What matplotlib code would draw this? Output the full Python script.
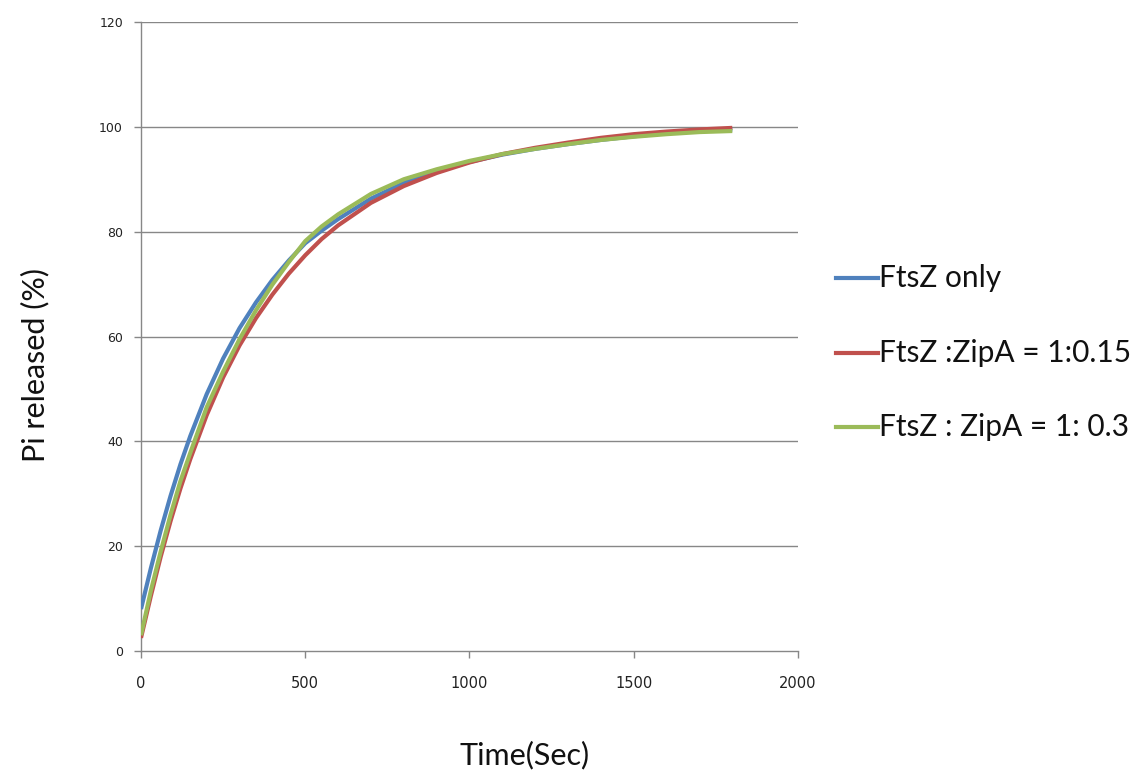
import matplotlib
matplotlib.use("Agg")
import matplotlib.pyplot as plt
from matplotlib.lines import Line2D

# Time points (s) and percentage of Pi released for each condition
time_s = [0, 30, 60, 90, 120, 150, 200, 250, 300, 350, 400, 450, 500, 550,
          600, 700, 800, 900, 1000, 1100, 1200, 1300, 1400, 1500, 1600, 1700, 1800]

ftsz_only = [8.0, 15.8, 23.0, 29.6, 35.6, 41.0, 49.0, 55.8, 61.6, 66.5, 70.8, 74.5,
             77.8, 80.2, 82.4, 86.3, 89.3, 91.5, 93.3, 94.7, 95.8, 96.7, 97.5,
             98.2, 98.8, 99.2, 99.5]

ftsz_zipa_015 = [2.5, 10.5, 18.0, 24.8, 31.0, 36.6, 45.0, 52.2, 58.3, 63.5, 68.0,
                 72.0, 75.5, 78.6, 81.2, 85.5, 88.7, 91.2, 93.2, 94.8, 96.0, 97.0,
                 97.9, 98.6, 99.1, 99.5, 99.8]

ftsz_zipa_03 = [3.0, 11.5, 19.0, 26.0, 32.4, 37.8, 46.5, 53.3, 59.5, 65.0, 69.9,
                74.2, 78.2, 81.0, 83.3, 87.2, 90.0, 91.9, 93.5, 94.8, 95.8, 96.7,
                97.5, 98.1, 98.6, 99.0, 99.2]

series_labels = ["FtsZ only", "FtsZ :ZipA = 1:0.15", "FtsZ : ZipA = 1: 0.3"]
series_colors = ["#4F81BD", "#C0504D", "#9BBB59"]

x_ticks = [0, 500, 1000, 1500, 2000]
y_ticks = [0, 20, 40, 60, 80, 100, 120]

W, H = 1144, 774
fig = plt.figure(figsize=(W / 100, H / 100), dpi=100)
ax = fig.add_axes([141 / W, 1 - 651 / H, (798 - 141) / W, (651 - 22) / H])

grid_color = "#878787"
for yv in y_ticks[1:]:
    ax.axhline(yv, color=grid_color, lw=1.0, zorder=1)

for vals, lab, col in zip([ftsz_only, ftsz_zipa_015, ftsz_zipa_03],
                          series_labels, series_colors):
    ax.plot(time_s, vals, color=col, lw=3.0, solid_capstyle="butt",
            solid_joinstyle="round", zorder=3, label=lab)

ax.set_xlim(0, 2000)
ax.set_ylim(0, 120)
ax.set_xticks(x_ticks)
ax.set_yticks(y_ticks)
ax.set_xticklabels([str(v) for v in x_ticks], fontsize=10.5, family="Liberation Sans Narrow")
ax.set_yticklabels([str(v) for v in y_ticks], fontsize=9, family="DejaVu Sans")
ax.tick_params(axis="both", direction="out", length=5, width=1.0, color=grid_color,
               labelcolor="#222222")
ax.tick_params(axis="x", pad=13)
ax.tick_params(axis="y", pad=8)

for side in ["top", "right"]:
    ax.spines[side].set_visible(False)
for side in ["left", "bottom"]:
    ax.spines[side].set_color(grid_color)
    ax.spines[side].set_linewidth(1.0)

label_font = "Lato"
fig.text(35 / W, 1 - 365 / H, "Pi released (%)", rotation=90, ha="center", va="center",
         fontsize=22, family=label_font, color="#111111")
fig.text(525 / W, 1 - 755 / H, "Time(Sec)", ha="center", va="center",
         fontsize=22, family=label_font, color="#111111")

# Legend drawn as short line samples with text to the right
legend_rows = [278, 353, 427]
for yy, lab, col in zip(legend_rows, series_labels, series_colors):
    fy = 1 - yy / H
    fig.add_artist(Line2D([836 / W, 878 / W], [fy, fy], color=col, lw=3.0,
                          transform=fig.transFigure))
    fig.text(879 / W, fy, lab, ha="left", va="center", fontsize=21.5,
             family=label_font, color="#111111")

fig.savefig("out.png", dpi=100, facecolor="white")
